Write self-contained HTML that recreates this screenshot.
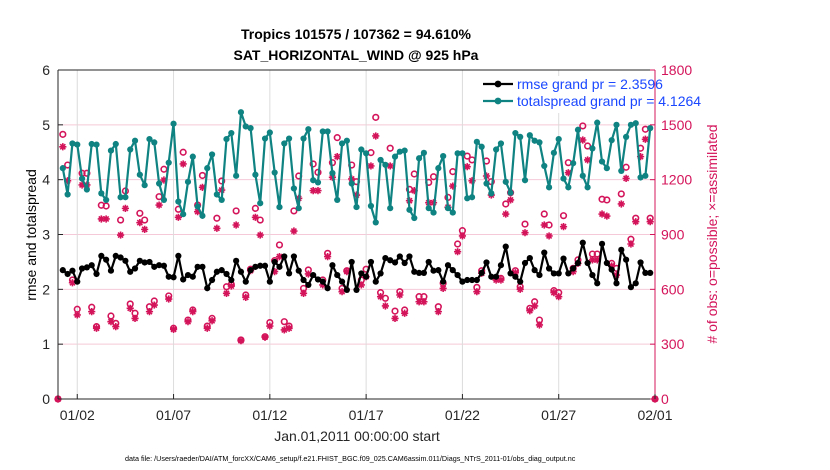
<!DOCTYPE html>
<html><head><meta charset="utf-8"><style>
html,body{margin:0;padding:0;background:#fff;}
svg{display:block;font-family:"Liberation Sans",Arial,sans-serif;}
</style></head><body>
<svg id="chart" width="830" height="470" viewBox="0 0 830 470">
<text x="356" y="39" text-anchor="middle" font-size="14" font-weight="bold">Tropics 101575 / 107362 = 94.610%</text>
<text x="356" y="60" text-anchor="middle" font-size="14" font-weight="bold">SAT_HORIZONTAL_WIND @ 925 hPa</text>
<g id="grid"></g>
<g id="marks"></g>
<g id="axes"></g>
<g id="legend"></g>
<text x="36" y="235" transform="rotate(-90 36 235)" text-anchor="middle" font-size="14">rmse and totalspread</text>
<text x="717" y="234" transform="rotate(-90 717 234)" text-anchor="middle" font-size="14" fill="#d4145a"># of obs: o=possible; ×=assimilated</text>
<text x="357" y="441" text-anchor="middle" font-size="14" fill="#262626">Jan.01,2011 00:00:00 start</text>
<text x="125" y="461" font-size="7.2" fill="#000">data file: /Users/raeder/DAI/ATM_forcXX/CAM6_setup/f.e21.FHIST_BGC.f09_025.CAM6assim.011/Diags_NTrS_2011-01/obs_diag_output.nc</text>
</svg>
<script>
const xTickLabels = ["01/02","01/07","01/12","01/17","01/22","01/27","02/01"];
const xTickDays = [1,6,11,16,21,26,31];
const leftTicks = [0,1,2,3,4,5,6];
const rightTicks = [0,300,600,900,1200,1500,1800];
const stepDays = 0.25;
const rmse = [null,2.35,2.28,2.34,2.14,2.38,2.40,2.44,2.28,2.61,2.54,2.34,2.61,2.58,2.52,2.32,2.38,2.52,2.49,2.50,2.41,2.44,2.43,2.23,2.22,2.61,2.18,2.26,2.23,2.41,2.41,2.02,2.17,2.32,2.35,2.28,2.17,2.52,2.32,2.14,2.35,2.41,2.43,2.43,
2.14,2.50,2.41,2.60,2.29,2.60,2.34,2.17,2.08,2.26,2.18,2.14,2.02,2.44,2.26,2.14,1.99,2.50,1.99,2.29,2.23,2.50,2.14,2.29,2.57,2.53,2.49,2.60,2.48,2.60,2.32,2.30,2.30,2.50,2.34,2.35,2.14,2.44,2.35,2.26,2.14,
2.17,2.17,2.17,2.30,2.49,2.23,2.23,2.44,2.78,2.29,2.23,2.14,2.48,2.57,2.35,2.26,2.67,2.38,2.29,2.29,2.56,2.29,2.38,2.48,2.85,2.48,2.26,2.11,2.83,2.48,2.36,2.11,2.72,2.54,2.04,2.11,2.49,2.30,2.30,null];
const spread = [null,4.21,3.73,4.66,4.64,4.02,3.82,4.65,4.64,3.75,3.63,4.53,4.65,3.68,3.68,4.55,4.71,4.09,3.90,4.74,4.68,3.93,3.63,4.31,5.02,3.60,3.37,3.96,4.42,3.51,3.34,4.21,4.46,3.73,3.63,4.74,4.85,4.07,5.23,4.97,4.94,4.09,3.57,4.75,
4.86,4.13,3.50,4.66,4.75,3.84,3.48,4.75,4.92,3.99,3.95,4.88,4.88,4.12,3.63,4.66,4.71,3.93,3.50,4.55,4.48,3.52,3.22,4.36,4.27,3.48,4.42,4.51,4.53,3.45,3.30,4.39,4.49,3.48,3.40,4.21,4.43,3.48,3.40,4.48,4.48,
3.66,3.68,4.69,4.60,3.93,3.75,4.55,4.66,3.96,3.76,4.85,4.78,3.99,4.81,4.71,4.68,4.25,3.86,4.49,4.74,4.02,3.86,4.30,4.91,4.07,3.86,4.57,5.04,4.33,4.21,4.72,5.00,4.16,4.78,5.00,5.03,4.04,4.07,4.94,null];
const obsPossible = [0,1448,1280,651,491,1235,1235,502,396,1060,1056,454,414,979,1138,520,469,1016,979,505,536,1107,1257,564,387,1038,1350,432,487,1061,1223,399,441,989,1193,614,627,1029,323,569,710,1043,979,341,
418,757,843,423,399,1029,1220,605,706,1286,1240,651,797,1293,1430,605,702,1280,1189,651,710,1348,1541,582,551,1372,481,587,487,1147,1231,560,560,1185,1216,505,633,1103,1244,848,921,
1329,1308,611,702,1302,1189,660,660,1067,1129,702,614,957,496,532,432,1012,952,593,582,1003,1293,715,761,1494,1384,793,793,1093,1089,742,715,1122,1268,874,989,1372,1476,989,0];
const obsAssim = [0,1380,1194,636,460,1171,1171,478,387,985,985,423,396,897,1043,496,441,965,928,478,514,1061,1198,547,381,994,1286,423,478,1025,1158,387,428,934,1143,578,618,952,319,556,702,994,897,338,
399,697,779,378,387,919,1098,578,684,1140,1140,624,779,1213,1326,587,697,1204,1116,624,669,1275,1439,560,509,1275,441,569,469,1085,1140,532,532,1074,1074,478,605,1049,1165,806,892,
1271,1194,587,688,1220,1116,651,651,1012,1089,691,600,910,483,509,405,952,892,582,560,943,1238,697,742,1417,1308,761,761,1012,1001,728,678,1067,1207,848,970,1326,1421,970,0];

const NS="http://www.w3.org/2000/svg";
const X0=58,X1=655,Y0=399,Y1=70;
const xs=d=>X0+(d/31)*(X1-X0);
const yL=v=>Y0-(v/6)*(Y0-Y1);
const yR=v=>Y0-(v/1800)*(Y0-Y1);
const RED="#d4145a",TEAL="#0f8282";
function mk(tag,attrs,parent){const e=document.createElementNS(NS,tag);for(const k in attrs)e.setAttribute(k,attrs[k]);parent.appendChild(e);return e;}
const grid=document.getElementById('grid'),marks=document.getElementById('marks'),axes=document.getElementById('axes'),legend=document.getElementById('legend');

rightTicks.forEach(v=>{const l=mk('line',{x1:X0,x2:X1,y1:yR(v),y2:yR(v),stroke:"#f5c9d8","stroke-width":1},grid);

});
xTickDays.forEach(d=>{const l=mk('line',{x1:xs(d),x2:xs(d),y1:Y1,y2:Y0,stroke:"#dcdcdc","stroke-width":1},grid);

});

obsPossible.forEach((v,i)=>{if(v==null)return;const c=mk('circle',{cx:xs(i*stepDays),cy:yR(v),r:2.8,fill:"none",stroke:RED,"stroke-width":1.6},marks);

});
obsAssim.forEach((v,i)=>{if(v==null)return;const x=xs(i*stepDays),y=yR(v),s=3.6;
const g=mk('path',{d:`M${x-s} ${y}H${x+s}M${x} ${y-s}V${y+s}M${x-s*0.7} ${y-s*0.7}L${x+s*0.7} ${y+s*0.7}M${x-s*0.7} ${y+s*0.7}L${x+s*0.7} ${y-s*0.7}`,stroke:RED,"stroke-width":1.6,fill:"none"},marks);

});

function series(arr,color,name){let d="";arr.forEach((v,i)=>{if(v==null)return;d+=(d?"L":"M")+xs(i*stepDays).toFixed(1)+" "+yL(v).toFixed(1);});
const p=mk('path',{d:d,fill:"none",stroke:color,"stroke-width":2.2,"stroke-linejoin":"round"},marks);


arr.forEach((v,i)=>{if(v==null)return;const c=mk('circle',{cx:xs(i*stepDays),cy:yL(v),r:3.1,fill:color},marks);

});}
series(spread,TEAL,'totalspread');
series(rmse,"#000",'rmse');

let a=mk('line',{x1:X0,x2:X0,y1:Y1,y2:Y0,stroke:"#262626","stroke-width":1},axes);


a=mk('line',{x1:X1,x2:X1,y1:Y1,y2:Y0,stroke:RED,"stroke-width":1},axes);


a=mk('line',{x1:X0,x2:X1,y1:Y0,y2:Y0,stroke:"#262626","stroke-width":1},axes);


a=mk('line',{x1:X0,x2:X1,y1:Y1,y2:Y1,stroke:"#262626","stroke-width":1},axes);


leftTicks.forEach(v=>{mk('line',{x1:X0,x2:X0+5,y1:yL(v),y2:yL(v),stroke:"#262626"},axes);
const t=mk('text',{x:X0-8,y:yL(v)+5,"text-anchor":"end","font-size":14,fill:"#262626"},axes);t.textContent=v;

});
rightTicks.forEach(v=>{mk('line',{x1:X1-5,x2:X1,y1:yR(v),y2:yR(v),stroke:RED},axes);
const t=mk('text',{x:X1+6,y:yR(v)+5,"font-size":14,fill:RED},axes);t.textContent=v;

});
xTickDays.forEach((d,i)=>{mk('line',{x1:xs(d),x2:xs(d),y1:Y0,y2:Y0-5,stroke:"#262626"},axes);
const t=mk('text',{x:xs(d),y:Y0+21,"text-anchor":"middle","font-size":14,fill:"#262626"},axes);t.textContent=xTickLabels[i];

});

const lb=mk('rect',{x:481,y:76,width:172,height:37,fill:"#fff"},legend);


[["rmse grand pr = 2.3596","#000",89],["totalspread grand pr = 4.1264",TEAL,106]].forEach(([txt,col,y])=>{
mk('line',{x1:483,x2:513,y1:y-5,y2:y-5,stroke:col,"stroke-width":2.2},legend);
mk('circle',{cx:498,cy:y-5,r:3.4,fill:col},legend);
const t=mk('text',{x:517,y:y,"font-size":14,fill:"#1a47ff"},legend);t.textContent=txt;

});
</script>
</body></html>
